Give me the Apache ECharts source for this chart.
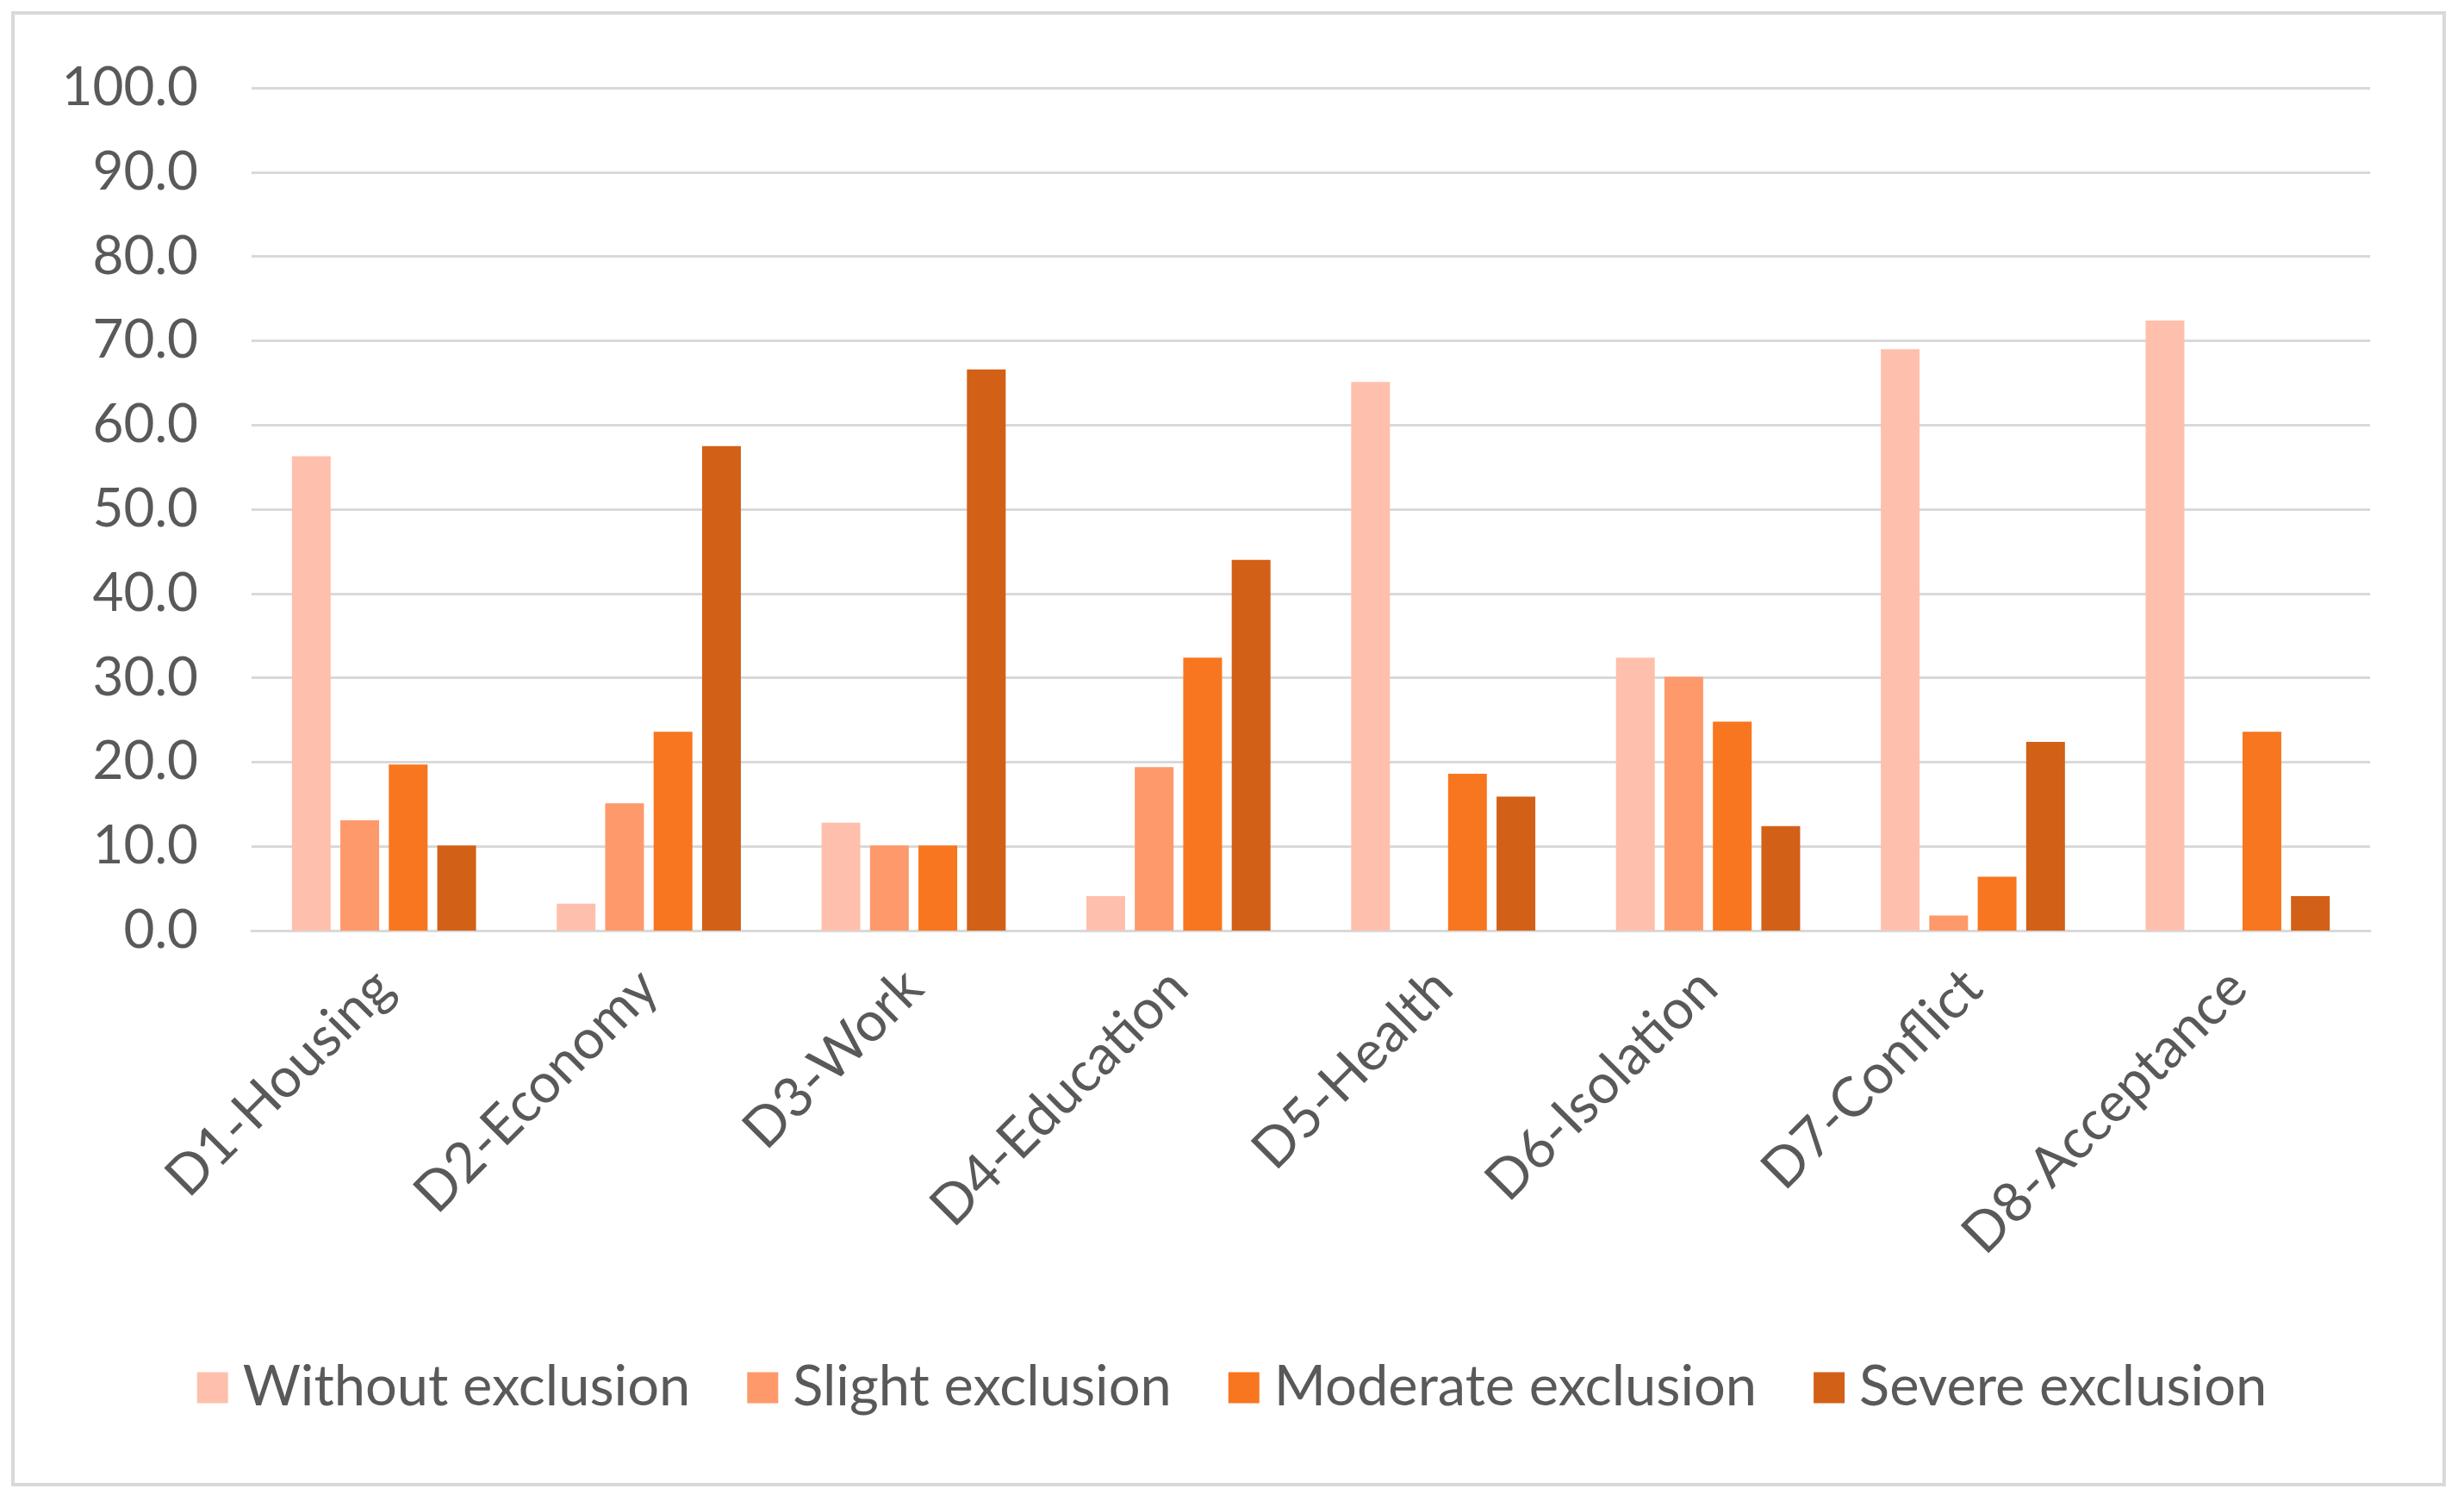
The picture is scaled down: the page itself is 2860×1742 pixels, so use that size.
<!DOCTYPE html>
<html>
<head>
<meta charset="utf-8">
<script src="https://cdn.jsdelivr.net/npm/echarts@6/dist/echarts.min.js"></script>
<style>
html,body{margin:0;padding:0;background:#fff;}
#chart{width:2860px;height:1742px;}
</style>
</head>
<body>
<div id="chart"></div>
<script>
const categories = ['D1-Housing','D2-Economy','D3-Work','D4-Education','D5-Health','D6-Isolation','D7-Conflict','D8-Acceptance'];
const seriesNames = ['Without exclusion','Slight exclusion','Moderate exclusion','Severe exclusion'];
const withoutExclusion = [56.3, 3.2, 12.8, 4.1, 65.1, 32.4, 69.0, 72.4];
const slightExclusion = [13.1, 15.1, 10.1, 19.4, 0.0, 30.1, 1.8, 0.0];
const moderateExclusion = [19.7, 23.6, 10.1, 32.4, 18.6, 24.8, 6.4, 23.6];
const severeExclusion = [10.1, 57.5, 66.6, 44.0, 15.9, 12.4, 22.4, 4.1];
const yTicks = {min: 0, max: 100, interval: 10};

const colors = ['#FEC0AC', '#FE996B', '#F8761F', '#D26017'];
const allValues = [withoutExclusion, slightExclusion, moderateExclusion, severeExclusion];
const FONT = 'Lato';
const chart = echarts.init(document.getElementById('chart'));
chart.setOption({
  backgroundColor: '#ffffff',
  animation: false,
  textStyle: {fontFamily: FONT},
  graphic: [{
    type: 'rect',
    shape: {x: 15, y: 15, width: 2822, height: 1708},
    style: {fill: 'none', stroke: '#d9d9d9', lineWidth: 4},
    silent: true
  }],
  legend: {
    data: seriesNames,
    left: 'center',
    top: 1573,
    itemWidth: 36,
    itemHeight: 36,
    itemGap: 66,
    icon: 'rect',
    textStyle: {fontFamily: FONT, fontSize: 65, color: '#595959', padding: [0, 0, 0, 12]}
  },
  grid: {left: 292, right: 109, top: 102, bottom: 662},
  xAxis: {
    type: 'category',
    data: categories,
    axisLine: {lineStyle: {color: '#d9d9d9', width: 3}},
    axisTick: {show: false},
    axisLabel: {rotate: 45, margin: 56, fontFamily: FONT, fontSize: 64, color: '#595959', interval: 0}
  },
  yAxis: {
    type: 'value',
    min: yTicks.min, max: yTicks.max, interval: yTicks.interval,
    axisLine: {show: false},
    axisTick: {show: false},
    splitLine: {lineStyle: {color: '#d9d9d9', width: 3}},
    axisLabel: {margin: 62, fontFamily: FONT, fontSize: 62, color: '#595959', formatter: v => v.toFixed(1)}
  },
  series: seriesNames.map((name, i) => ({
    name: name,
    type: 'bar',
    data: allValues[i],
    barWidth: 45,
    barGap: '25%',
    itemStyle: {color: colors[i]}
  }))
});
</script>
</body>
</html>
